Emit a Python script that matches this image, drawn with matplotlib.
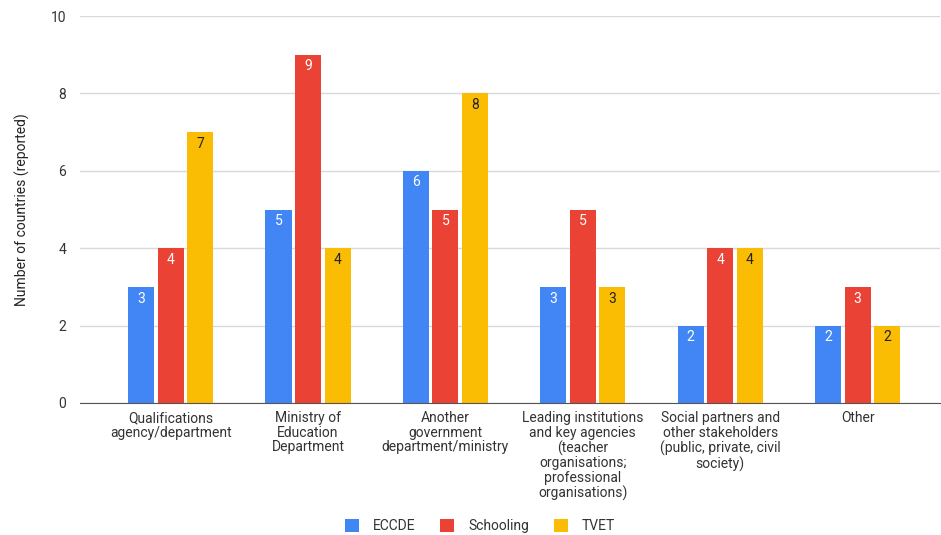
import numpy as np
import matplotlib.pyplot as plt

plt.rcParams['font.family'] = ['Roboto', 'DejaVu Sans']

categories = [
    "Qualifications\nagency/department",
    "Ministry of\nEducation\nDepartment",
    "Another\ngovernment\ndepartment/ministry",
    "Leading institutions\nand key agencies\n(teacher\norganisations;\nprofessional\norganisations)",
    "Social partners and\nother stakeholders\n(public, private, civil\nsociety)",
    "Other",
]
series = ["ECCDE", "Schooling", "TVET"]
eccde = [3, 5, 6, 3, 2, 2]
schooling = [4, 9, 5, 5, 4, 3]
tvet = [7, 4, 8, 3, 4, 2]

colors = ["#4285F4", "#EA4335", "#FBBC04"]
label_colors = ["white", "white", "#222222"]
fs = 10

fig = plt.figure(figsize=(9.41, 5.35), dpi=100)
ax = fig.add_axes([80 / 941, 132 / 535, 860 / 941, 387 / 535])

x = np.arange(len(categories))
step = 0.215
width = 0.19
for i, (name, vals) in enumerate(zip(series, [eccde, schooling, tvet])):
    pos = x + (i - 1) * step
    ax.bar(pos, vals, width, color=colors[i], label=name, zorder=3)
    for p, v in zip(pos, vals):
        ax.text(p, v - 0.3, str(v), ha="center", va="center",
                fontsize=fs, color=label_colors[i], zorder=4)

ax.set_ylim(0, 10)
ax.set_xlim(-0.66, 5.6)
ax.set_yticks(range(0, 11, 2))
ax.set_xticks(x)
ax.set_xticklabels(categories, fontsize=fs, color="#333333", linespacing=1.05)
ax.tick_params(axis="x", length=0, pad=6)
ax.tick_params(axis="y", length=0, labelsize=fs, labelcolor="#333333", pad=10)
ax.grid(axis="y", color="#d9d9d9", linewidth=1, zorder=0)
for s in ["top", "right", "left"]:
    ax.spines[s].set_visible(False)
ax.spines["bottom"].set_color("#555555")
ax.spines["bottom"].set_zorder(5)

ax.set_ylabel("Number of countries (reported)", fontsize=fs, color="#222222", labelpad=15)

fig.legend(loc="lower center", bbox_to_anchor=(0.51, -0.02), ncol=3, frameon=False,
           fontsize=fs, handlelength=1.0, handleheight=1.0, columnspacing=1.8,
           handletextpad=1.0, labelcolor="#333333")

fig.savefig("out.png", dpi=100)
